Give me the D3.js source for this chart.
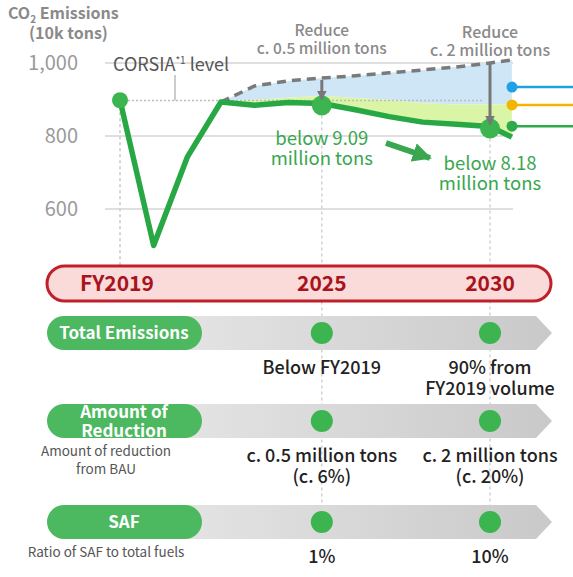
<!DOCTYPE html>
<html>
<head>
<meta charset="utf-8">
<script src="https://cdn.jsdelivr.net/npm/d3@7"></script>
<style>
  body { margin: 0; background: #fff; }
  svg { display: block; font-family: "Noto Sans CJK JP", "Noto Sans", sans-serif; }
</style>
</head>
<body>
<div id="chart"></div>
<script>
// dados
const years     = [2019, 2020, 2021, 2022, 2023, 2024, 2025, 2026, 2027, 2028, 2029, 2030, 2030.65];
const emissions = [898, 500, 742, 893, 884, 892, 889, 872, 853, 838, 832, 826, 797];
const bandYears = [2022, 2023, 2024, 2025, 2026, 2027, 2028, 2029, 2030, 2030.65];
const safTop    = [893, 899, 905, 910, 904, 899, 890, 886, 886, 886];
const bau       = [893, 937, 951, 959, 965, 973, 981, 989, 1000, 1008];
const corsiaLevel = 897;
const yTicks = [600, 800, 1000];
const legendLevels = [934, 885, 827];
const legendColors = ["#1ea2e4", "#f4b400", "#2eaa4a"];

const milestones = ["FY2019", "2025", "2030"];
const milestoneYears = [2019, 2025, 2030];
const rowNames = [["Total Emissions"], ["Amount of", "Reduction"], ["SAF"]];
const rowNotes = [[], ["Amount of reduction", "from BAU"], ["Ratio of SAF to total fuels"]];
const text2025 = [["Below FY2019"], ["c. 0.5 million tons", "(c. 6%)"], ["1%"]];
const text2030 = [["90% from", "FY2019 volume"], ["c. 2 million tons", "(c. 20%)"], ["10%"]];

const width = 573, height = 577;
const green = "#28a745";

const svg = d3.select("#chart").append("svg")
    .attr("width", width)
    .attr("height", height);

const defs = svg.append("defs");
const grad = defs.append("linearGradient").attr("id", "barGrad");
grad.append("stop").attr("offset", "0%").attr("stop-color", "#e6e6e6");
grad.append("stop").attr("offset", "100%").attr("stop-color", "#c9c9c9");

function addMarker(id, color) {
    defs.append("marker")
        .attr("id", id)
        .attr("viewBox", "0 0 10 10")
        .attr("refX", 9).attr("refY", 5)
        .attr("markerWidth", 3.2).attr("markerHeight", 3.2)
        .attr("orient", "auto")
        .append("path")
        .attr("d", "M0,0L10,5L0,10Z")
        .attr("fill", color);
}
addMarker("arrGray", "#777");
addMarker("arrGreen", "#3aa64f");

// escalas
const x = d3.scaleLinear().domain([2019, 2030]).range([120, 490]);
const y = d3.scaleLinear().domain([600, 1000]).range([209, 63]);

// linhas verticais tracejadas
svg.append("line")
    .attr("x1", x(2019)).attr("x2", x(2019))
    .attr("y1", y(emissions[0])).attr("y2", 265)
    .attr("stroke", "#aaa").attr("stroke-dasharray", "3,3");
[2025, 2030].forEach(yr => {
    svg.append("line")
        .attr("x1", x(yr)).attr("x2", x(yr))
        .attr("y1", y(emissions[years.indexOf(yr)])).attr("y2", 505)
        .attr("stroke", "#bbb").attr("stroke-dasharray", "3,3");
});

// grade
svg.selectAll(".grid").data(yTicks).join("line")
    .attr("class", "grid")
    .attr("x1", 105).attr("x2", 513)
    .attr("y1", d => y(d)).attr("y2", d => y(d))
    .attr("stroke", "#d4d4d4").attr("stroke-width", 1.5);

svg.selectAll(".ytick").data(yTicks).join("text")
    .attr("class", "ytick")
    .attr("x", 78).attr("y", d => y(d) + 7)
    .attr("text-anchor", "end")
    .attr("font-size", 20)
    .attr("fill", "#9a9a9a")
    .text(d => d3.format(",")(d));

// título do eixo
const yTitle = svg.append("text").attr("x", 8).attr("y", 19)
    .attr("font-size", 16).attr("font-weight", "bold").attr("fill", "#8a8a8a");
yTitle.append("tspan").text("CO");
yTitle.append("tspan").attr("font-size", 10).attr("dy", 4).text("2");
yTitle.append("tspan").attr("dy", -4).text(" Emissions");
svg.append("text").attr("x", 29).attr("y", 39)
    .attr("font-size", 16).attr("font-weight", "bold").attr("fill", "#8a8a8a")
    .text("(10k tons)");

// áreas
const band = bandYears.map((yr, i) => ({year: yr, saf: safTop[i], bau: bau[i],
    em: emissions[years.indexOf(yr)]}));

svg.append("path").datum(band)
    .attr("fill", "#cfe6f7")
    .attr("d", d3.area().x(d => x(d.year)).y0(d => y(d.saf)).y1(d => y(d.bau)));
svg.append("path").datum(band)
    .attr("fill", "#dbf5a6")
    .attr("d", d3.area().x(d => x(d.year)).y0(d => y(d.em)).y1(d => y(d.saf)));

// nível CORSIA
svg.append("line")
    .attr("x1", x(2019)).attr("x2", x(2029.8))
    .attr("y1", y(corsiaLevel)).attr("y2", y(corsiaLevel))
    .attr("stroke", "#bdbdbd").attr("stroke-width", 1.5).attr("stroke-dasharray", "2,2");
svg.append("line")
    .attr("x1", 175).attr("x2", 175)
    .attr("y1", 75).attr("y2", y(corsiaLevel))
    .attr("stroke", "#999");
const corsia = svg.append("text").attr("x", 113).attr("y", 71)
    .attr("font-size", 18).attr("fill", "#555");
corsia.append("tspan").text("CORSIA");
corsia.append("tspan").attr("font-size", 10).attr("dy", -7).text("*1");
corsia.append("tspan").attr("dy", 7).text(" level");

// BAU tracejado
svg.append("path").datum(band)
    .attr("fill", "none")
    .attr("stroke", "#7a7a7a").attr("stroke-width", 3.5)
    .attr("stroke-dasharray", "9,6")
    .attr("d", d3.line().x(d => x(d.year)).y(d => y(d.bau)));

// linha de emissões
const pts = years.map((yr, i) => ({year: yr, v: emissions[i]}));
svg.append("path").datum(pts)
    .attr("fill", "none")
    .attr("stroke", green).attr("stroke-width", 5.5)
    .attr("stroke-linejoin", "round")
    .attr("d", d3.line().x(d => x(d.year)).y(d => y(d.v)));

svg.selectAll(".mdot").data(milestoneYears).join("circle")
    .attr("class", "mdot")
    .attr("cx", d => x(d))
    .attr("cy", d => y(emissions[years.indexOf(d)]) + (d === 2019 ? 0 : 2))
    .attr("r", d => d === 2019 ? 8 : 10)
    .attr("fill", "#3cb44f");

// legenda à direita
svg.selectAll(".legline").data(legendLevels).join("line")
    .attr("class", "legline")
    .attr("x1", 512).attr("x2", width)
    .attr("y1", d => y(d)).attr("y2", d => y(d))
    .attr("stroke", (d, i) => legendColors[i]).attr("stroke-width", 2.5);
svg.selectAll(".legdot").data(legendLevels).join("circle")
    .attr("class", "legdot")
    .attr("cx", 512).attr("cy", d => y(d)).attr("r", 5.5)
    .attr("fill", (d, i) => legendColors[i]);

// setas de redução
svg.append("line")
    .attr("x1", x(2025)).attr("x2", x(2025))
    .attr("y1", y(bau[3]) + 2).attr("y2", y(emissions[6]) - 4)
    .attr("stroke", "#777").attr("stroke-width", 3)
    .attr("marker-end", "url(#arrGray)");
svg.append("line")
    .attr("x1", x(2030)).attr("x2", x(2030))
    .attr("y1", y(bau[8]) + 1).attr("y2", y(emissions[11]) - 2)
    .attr("stroke", "#777").attr("stroke-width", 3)
    .attr("marker-end", "url(#arrGray)");

svg.append("line")
    .attr("x1", 386).attr("y1", 143).attr("x2", 430).attr("y2", 158)
    .attr("stroke", "#3aa64f").attr("stroke-width", 6)
    .attr("marker-end", "url(#arrGreen)");

// uma linha de texto por elemento
function multiline(lines, cx, y0, lh, attrs) {
    lines.forEach((s, i) => {
        const t = svg.append("text")
            .attr("x", cx).attr("y", y0 + i * lh)
            .attr("text-anchor", "middle")
            .text(s);
        Object.entries(attrs).forEach(([k, v]) => t.attr(k, v));
    });
}

multiline(["Reduce", "c. 0.5 million tons"], x(2025), 36, 18,
    {"font-size": 15.5, "font-weight": 500, "fill": "#8a8a8a"});
multiline(["Reduce", "c. 2 million tons"], x(2030), 38, 18,
    {"font-size": 16, "font-weight": 500, "fill": "#8a8a8a"});
multiline(["below 9.09", "million tons"], x(2025), 145, 20,
    {"font-size": 18.5, "fill": "#3aa64f"});
multiline(["below 8.18", "million tons"], x(2030), 170, 20,
    {"font-size": 18.5, "fill": "#3aa64f"});

// linha do tempo
svg.append("rect")
    .attr("x", 47).attr("y", 266).attr("width", 504).attr("height", 35).attr("rx", 17.5)
    .attr("fill", "#fbdada").attr("stroke", "#c0202a").attr("stroke-width", 3);
svg.selectAll(".mlabel").data(milestones).join("text")
    .attr("class", "mlabel")
    .attr("x", (d, i) => x(milestoneYears[i]) - (i === 0 ? 3 : 0))
    .attr("y", 291)
    .attr("text-anchor", "middle")
    .attr("font-size", 21).attr("font-weight", "bold")
    .attr("fill", "#a8141d")
    .text(d => d);

// linhas de metas
const rowTops = [316, 404, 505];
const rowH = 34;
rowTops.forEach((top, i) => {
    const mid = top + rowH / 2;
    svg.append("path")
        .attr("d", `M150,${top}L536,${top}L552,${mid}L536,${top + rowH}L150,${top + rowH}Z`)
        .attr("fill", "url(#barGrad)");
    svg.append("rect")
        .attr("x", 47).attr("y", top).attr("width", 155).attr("height", rowH).attr("rx", 17)
        .attr("fill", "#4cb960");
    const n = rowNames[i].length;
    multiline(rowNames[i], 124, mid + 6 - (n - 1) * 9.5, 19,
        {"font-size": 17, "font-weight": "bold", "fill": "#fff"});
    if (rowNotes[i].length)
        multiline(rowNotes[i], 106, top + rowH + 18, 18,
            {"font-size": 13.5, "fill": "#555"});
    milestoneYears.slice(1).forEach(yr => {
        svg.append("circle").attr("cx", x(yr)).attr("cy", mid).attr("r", 11).attr("fill", "#3cb44f");
    });
    multiline(text2025[i], x(2025), top + rowH + 24, 21,
        {"font-size": 18, "font-weight": 500, "fill": "#222"});
    multiline(text2030[i], x(2030), top + rowH + 24, 21,
        {"font-size": 18, "font-weight": 500, "fill": "#222"});
});
</script>
</body>
</html>
